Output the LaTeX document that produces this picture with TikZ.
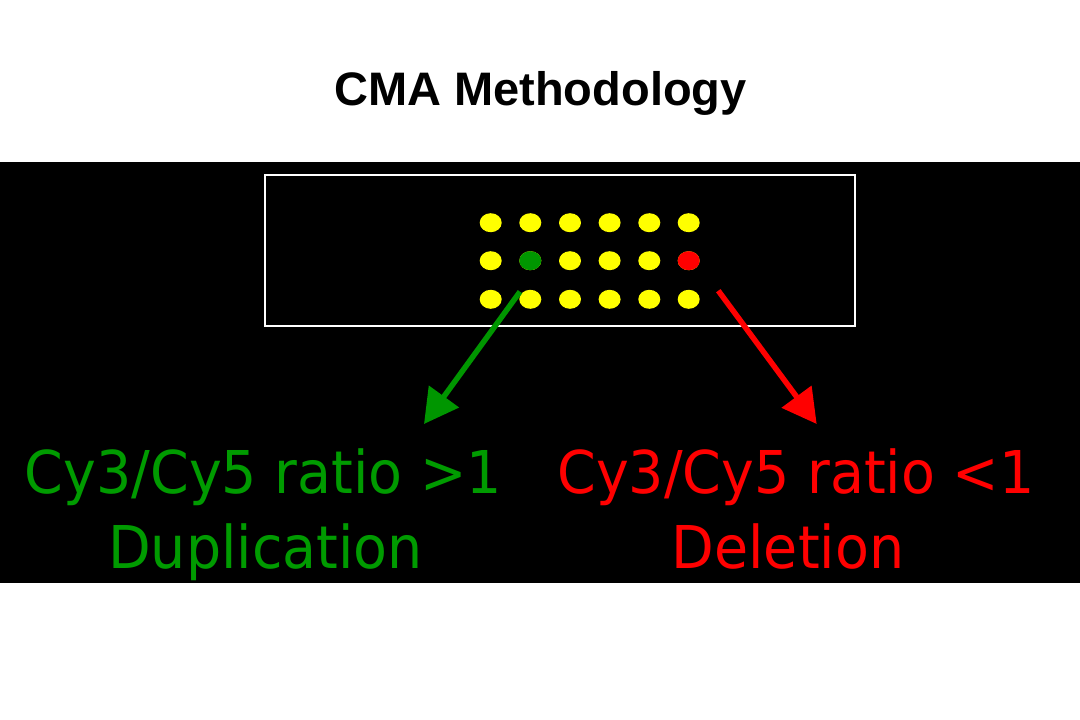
\documentclass[tikz,border=0pt]{standalone}
\usepackage{fontspec}
\setmainfont{Liberation Sans}
\newfontfamily\lab{DejaVu Sans}
\usetikzlibrary{arrows.meta,shapes.geometric}
\definecolor{dotyellow}{RGB}{255,255,0}
\definecolor{dotgreen}{RGB}{0,150,0}
\definecolor{dotred}{RGB}{255,0,0}
\definecolor{labgreen}{RGB}{0,155,0}
\definecolor{labred}{RGB}{255,0,0}
\tikzset{
  dot/.style={ellipse, minimum width=22pt, minimum height=19pt, inner sep=0pt, fill=dotyellow},
  ptr/.style={line width=5.5pt, -{Triangle[length=34pt,width=36pt]}},
  lbl/.style={anchor=base, inner sep=0pt, font=\lab\fontsize{59}{70}\selectfont},
}
\begin{document}
\begin{tikzpicture}[x=1pt,y=-1pt]
\useasboundingbox (0,0) rectangle (1080,720);
\fill[white] (0,0) rectangle (1080,720);
\fill[black] (0,162) rectangle (1080,583);
\node[anchor=base, inner sep=0pt, font=\bfseries\fontsize{47}{56}\selectfont] (title) at (540.5,105) {CMA Methodology};
\draw[white, line width=2pt] (265,175) rectangle (855,326);
\foreach \r/\y in {1/222.7,2/260.7,3/299.3}{
  \foreach \c/\x in {1/490.7,2/530.3,3/570,4/609.6,5/649.3,6/688.7}{
    \node[dot] (d\r\c) at (\x,\y) {};
  }
}
\node[dot, fill=dotgreen] at (d22) {};
\node[dot, fill=dotred] at (d26) {};
\coordinate (gs) at (520,291.7);
\coordinate (gt) at (424,424);
\coordinate (rs) at (718.3,290.7);
\coordinate (rt) at (816.7,424);
\draw[ptr, dotgreen] (gs) -- (gt);
\draw[ptr, dotred] (rs) -- (rt);
\node[lbl, labgreen] (g1) at (263.5,493) {\scalebox{0.94}[1]{Cy3/Cy5 ratio >1}};
\node[lbl, labgreen] (g2) at (265.5,568) {\scalebox{0.94}[1]{Duplication}};
\node[lbl, labred] (r1) at (796,493) {\scalebox{0.94}[1]{Cy3/Cy5 ratio <1}};
\node[lbl, labred] (r2) at (788,568) {\scalebox{0.94}[1]{Deletion}};
\end{tikzpicture}
\end{document}
